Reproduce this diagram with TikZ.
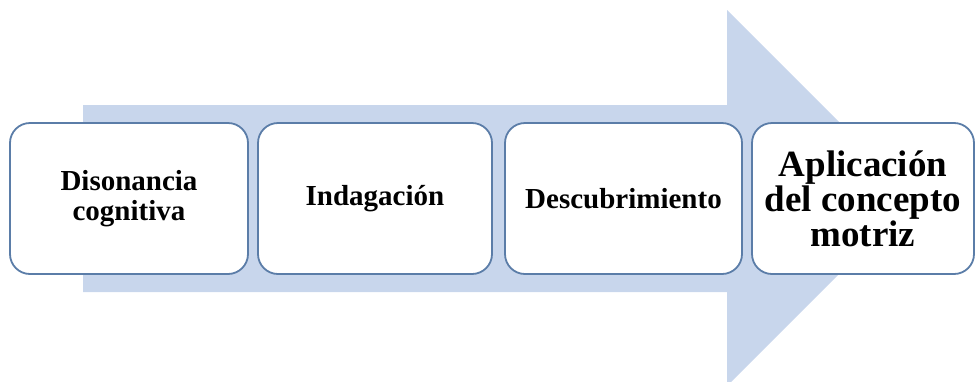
\documentclass[tikz,border=0pt]{standalone}
\usepackage{fontspec}
\setmainfont{Liberation Serif}
\definecolor{arrowblue}{HTML}{C8D6EC}
\definecolor{boxline}{HTML}{5B7DA8}
\begin{document}
\begin{tikzpicture}[x=1pt,y=-1pt,
  stagebox/.style={draw=boxline, line width=1.8pt, fill=white, rounded corners=20pt,
    minimum height=151pt, align=center, inner sep=2pt,
    font=\bfseries\fontsize{29}{30}\selectfont},
  bigtext/.style={font=\bfseries\fontsize{37}{35}\selectfont}]
\useasboundingbox (0,0) rectangle (977,381);
\fill[arrowblue] (83,105) -- (727,105) -- (727,10) -- (915,198) -- (727,386) -- (727,292) -- (83,292) -- cycle;
\node[stagebox, minimum width=238pt] (b1) at (129,198.5) {Disonancia\\cognitiva};
\node[stagebox, minimum width=234pt] (b2) at (375,198.5) {\raisebox{-2pt}{Indagación}};
\node[stagebox, minimum width=237pt] (b3) at (623.5,198.5) {Descubrimiento};
\node[stagebox, bigtext, minimum width=222pt] (b4) at (863,198.5) {Aplicación\\del concepto\\motriz};
\end{tikzpicture}
\end{document}
